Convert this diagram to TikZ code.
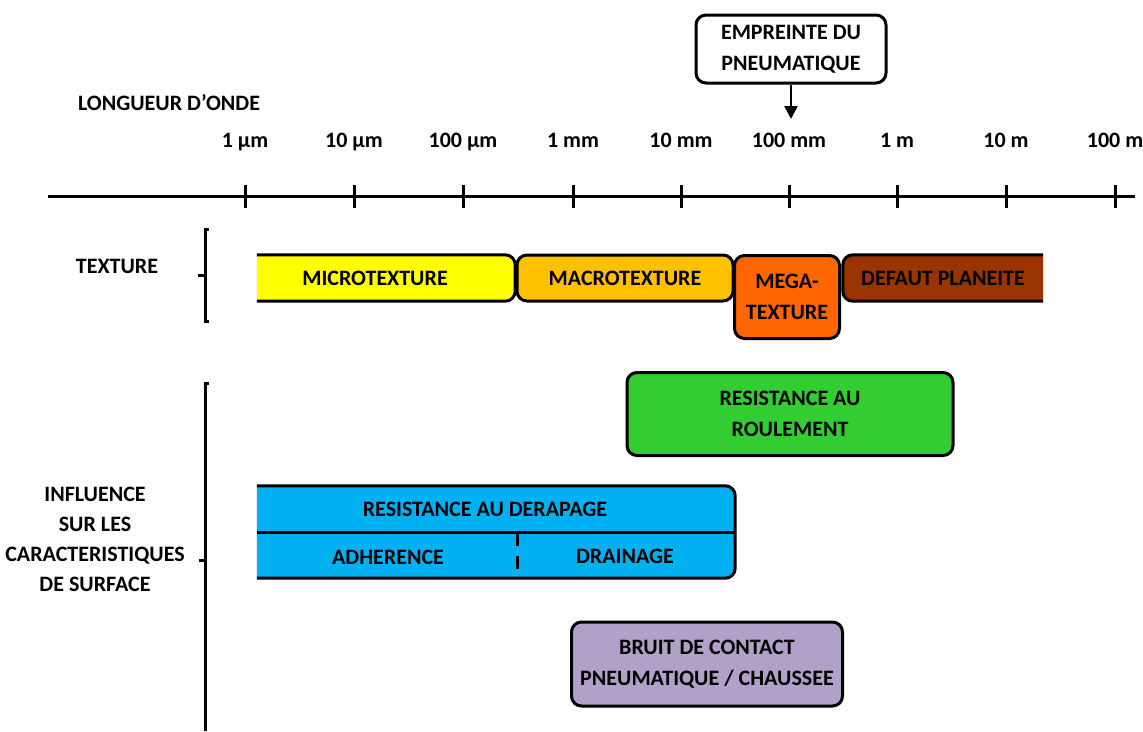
\documentclass[tikz,border=0pt]{standalone}
\usepackage{fontspec}
\setmainfont{Carlito}
\usetikzlibrary{arrows.meta,backgrounds}
\definecolor{microcol}{HTML}{FFFF00}
\definecolor{macrocol}{HTML}{FFC000}
\definecolor{megacol}{HTML}{FF6600}
\definecolor{planecol}{HTML}{993300}
\definecolor{rollcol}{HTML}{33CC33}
\definecolor{skidcol}{HTML}{00B0F0}
\definecolor{noisecol}{HTML}{B1A0C7}
\tikzset{
  lbl/.style={font=\fontsize{22}{31}\selectfont\bfseries,align=center,inner sep=0pt},
  box/.style={lbl,draw,line width=3pt,rounded corners=10pt},
  rim/.style={line width=3pt,rounded corners=10pt},
  brace/.style={line width=3pt},
}

\begin{document}
\begin{tikzpicture}[x=1pt,y=-1pt,>={Triangle[length=13pt,width=13pt]}]
\useasboundingbox (0,0) rectangle (1143,731);
% wavelength axis
\draw[line width=3pt] (48,196) coordinate (axl) -- (1135,196) coordinate (axr);
\foreach \x/\t [count=\i] in {245/1 µm,354/10 µm,463/100 µm,573/1 mm,681/10 mm,789/100 mm,897/1 m,1006/10 m,1115/100 m}{
  \draw[line width=3pt] (\x,185) -- (\x,208);
  \node[lbl,anchor=base] (w\i) at (\x,147) {\t};
}
\node[lbl] (title) at (169,103) {LONGUEUR D’ONDE};
\node[box,minimum width=190pt,minimum height=68pt] (foot) at (791,49) {EMPREINTE DU\\PNEUMATIQUE};
\coordinate (footend) at (791,119);
\draw[->,line width=2.5pt] (foot.south) -- (footend);

% texture bands
\node[lbl] (tex) at (117,266) {TEXTURE};
\draw[brace] (209,229) -- (205,229) -- (205,321) -- (209,321);
\draw[brace] (205,275) -- (198,275);
\node[lbl,minimum width=258pt,minimum height=46pt] (micro) at (386,278) {MICROTEXTURE\hspace*{22pt}};
\node[box,fill=macrocol,minimum width=216pt,minimum height=46pt] (macro) at (625,278) {MACROTEXTURE};
\node[box,fill=megacol,minimum width=105pt,minimum height=83pt] (mega) at (787,297) {MEGA-\\TEXTURE};
\node[lbl,minimum width=200pt,minimum height=46pt] (plane) at (943,278) {DEFAUT PLANEITE};
\begin{scope}[on background layer]
\draw[rim,fill=microcol] (micro.north west) -- (micro.north east) -- (micro.south east) -- (micro.south west);
\draw[rim,fill=planecol] (plane.north east) -- (plane.north west) -- (plane.south west) -- (plane.south east);
\end{scope}

% surface characteristics
\node[lbl,font=\fontsize{22}{30}\selectfont\bfseries] (infl) at (95,539) {INFLUENCE\\SUR LES\\CARACTERISTIQUES\\DE SURFACE};
\draw[brace] (209,383) -- (205,383) -- (205,731);
\draw[brace] (205,560) -- (199,560);
\node[box,fill=rollcol,minimum width=326pt,minimum height=83pt] (roll) at (790,414) {RESISTANCE AU\\ROULEMENT};
\node[lbl,minimum width=478pt,minimum height=92pt] (skid) at (496,532) {};
\begin{scope}[on background layer]
\draw[rim,fill=skidcol] (skid.north west) -- (skid.north east) -- (skid.south east) -- (skid.south west);
\end{scope}
\draw[line width=3pt] (skid.west) -- (skid.east);
\coordinate (split) at (517,533);
\draw[line width=3pt,dash pattern=on 13pt off 10pt] (split) -- (split |- skid.south);
\node[lbl] (skidtxt) at (485,509) {RESISTANCE AU DERAPAGE};
\node[lbl] (adh) at (388,557) {ADHERENCE};
\node[lbl] (drain) at (625,556) {DRAINAGE};
\node[box,fill=noisecol,minimum width=271pt,minimum height=84pt] (noise) at (707,664) {BRUIT DE CONTACT\\PNEUMATIQUE / CHAUSSEE};
\end{tikzpicture}
\end{document}
